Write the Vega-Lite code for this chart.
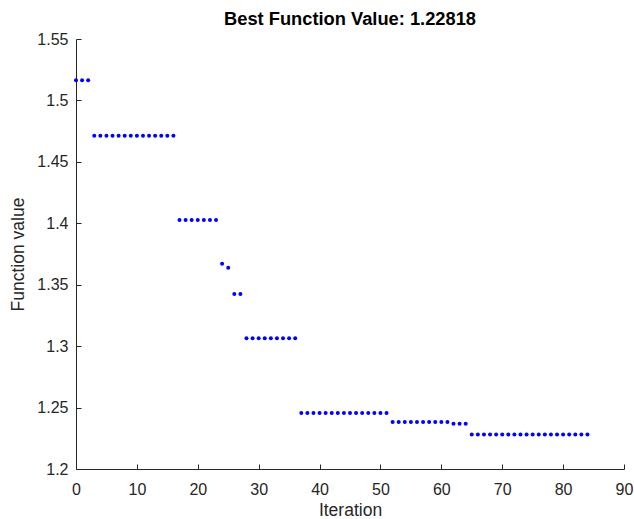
{
  "$schema": "https://vega.github.io/schema/vega-lite/v6.json",
  "width": 548,
  "height": 430,
  "autosize": {"type": "none"},
  "padding": {"left": 76, "top": 39, "right": 10, "bottom": 50},
  "background": "white",
  "title": {
    "text": "Best Function Value: 1.22818",
    "font": "Liberation Sans",
    "fontSize": 18.3,
    "fontWeight": "bold",
    "color": "#000000",
    "anchor": "middle",
    "offset": 2
  },
  "config": {
    "view": {"stroke": null},
    "axis": {
      "grid": false,
      "domainColor": "#262626",
      "tickColor": "#262626",
      "labelColor": "#262626",
      "titleColor": "#262626",
      "labelFont": "Liberation Sans",
      "titleFont": "Liberation Sans",
      "labelFontSize": 16,
      "titleFontSize": 17.5,
      "titleFontWeight": "normal",
      "labelFlush": false,
      "labelOverlap": false,
      "tickSize": -5,
      "domainWidth": 1,
      "tickWidth": 1
    }
  },
  "data": {
    "values": [
      {"iteration": 0, "value": 1.5165},
      {"iteration": 1, "value": 1.5165},
      {"iteration": 2, "value": 1.5165},
      {"iteration": 3, "value": 1.4712},
      {"iteration": 4, "value": 1.4712},
      {"iteration": 5, "value": 1.4712},
      {"iteration": 6, "value": 1.4712},
      {"iteration": 7, "value": 1.4712},
      {"iteration": 8, "value": 1.4712},
      {"iteration": 9, "value": 1.4712},
      {"iteration": 10, "value": 1.4712},
      {"iteration": 11, "value": 1.4712},
      {"iteration": 12, "value": 1.4712},
      {"iteration": 13, "value": 1.4712},
      {"iteration": 14, "value": 1.4712},
      {"iteration": 15, "value": 1.4712},
      {"iteration": 16, "value": 1.4712},
      {"iteration": 17, "value": 1.4027},
      {"iteration": 18, "value": 1.4027},
      {"iteration": 19, "value": 1.4027},
      {"iteration": 20, "value": 1.4027},
      {"iteration": 21, "value": 1.4027},
      {"iteration": 22, "value": 1.4027},
      {"iteration": 23, "value": 1.4027},
      {"iteration": 24, "value": 1.3671},
      {"iteration": 25, "value": 1.3639},
      {"iteration": 26, "value": 1.3424},
      {"iteration": 27, "value": 1.3424},
      {"iteration": 28, "value": 1.3064},
      {"iteration": 29, "value": 1.3064},
      {"iteration": 30, "value": 1.3064},
      {"iteration": 31, "value": 1.3064},
      {"iteration": 32, "value": 1.3064},
      {"iteration": 33, "value": 1.3064},
      {"iteration": 34, "value": 1.3064},
      {"iteration": 35, "value": 1.3064},
      {"iteration": 36, "value": 1.3064},
      {"iteration": 37, "value": 1.2456},
      {"iteration": 38, "value": 1.2456},
      {"iteration": 39, "value": 1.2456},
      {"iteration": 40, "value": 1.2456},
      {"iteration": 41, "value": 1.2456},
      {"iteration": 42, "value": 1.2456},
      {"iteration": 43, "value": 1.2456},
      {"iteration": 44, "value": 1.2456},
      {"iteration": 45, "value": 1.2456},
      {"iteration": 46, "value": 1.2456},
      {"iteration": 47, "value": 1.2456},
      {"iteration": 48, "value": 1.2456},
      {"iteration": 49, "value": 1.2456},
      {"iteration": 50, "value": 1.2456},
      {"iteration": 51, "value": 1.2456},
      {"iteration": 52, "value": 1.2383},
      {"iteration": 53, "value": 1.2383},
      {"iteration": 54, "value": 1.2383},
      {"iteration": 55, "value": 1.2383},
      {"iteration": 56, "value": 1.2383},
      {"iteration": 57, "value": 1.2383},
      {"iteration": 58, "value": 1.2383},
      {"iteration": 59, "value": 1.2383},
      {"iteration": 60, "value": 1.2383},
      {"iteration": 61, "value": 1.2383},
      {"iteration": 62, "value": 1.2369},
      {"iteration": 63, "value": 1.2369},
      {"iteration": 64, "value": 1.2369},
      {"iteration": 65, "value": 1.22818},
      {"iteration": 66, "value": 1.22818},
      {"iteration": 67, "value": 1.22818},
      {"iteration": 68, "value": 1.22818},
      {"iteration": 69, "value": 1.22818},
      {"iteration": 70, "value": 1.22818},
      {"iteration": 71, "value": 1.22818},
      {"iteration": 72, "value": 1.22818},
      {"iteration": 73, "value": 1.22818},
      {"iteration": 74, "value": 1.22818},
      {"iteration": 75, "value": 1.22818},
      {"iteration": 76, "value": 1.22818},
      {"iteration": 77, "value": 1.22818},
      {"iteration": 78, "value": 1.22818},
      {"iteration": 79, "value": 1.22818},
      {"iteration": 80, "value": 1.22818},
      {"iteration": 81, "value": 1.22818},
      {"iteration": 82, "value": 1.22818},
      {"iteration": 83, "value": 1.22818},
      {"iteration": 84, "value": 1.22818}
    ]
  },
  "mark": {"type": "point", "filled": true, "size": 16, "color": "#0000ff", "opacity": 1},
  "encoding": {
    "x": {
      "field": "iteration",
      "type": "quantitative",
      "title": "Iteration",
      "scale": {"domain": [0, 90], "nice": false, "zero": false},
      "axis": {"values": [0, 10, 20, 30, 40, 50, 60, 70, 80, 90], "format": "d", "labelPadding": 17, "titlePadding": 4}
    },
    "y": {
      "field": "value",
      "type": "quantitative",
      "title": "Function value",
      "scale": {"domain": [1.2, 1.55], "nice": false, "zero": false},
      "axis": {"values": [1.2, 1.25, 1.3, 1.35, 1.4, 1.45, 1.5, 1.55], "format": ".2~f", "labelPadding": 13, "titlePadding": 9}
    }
  }
}
